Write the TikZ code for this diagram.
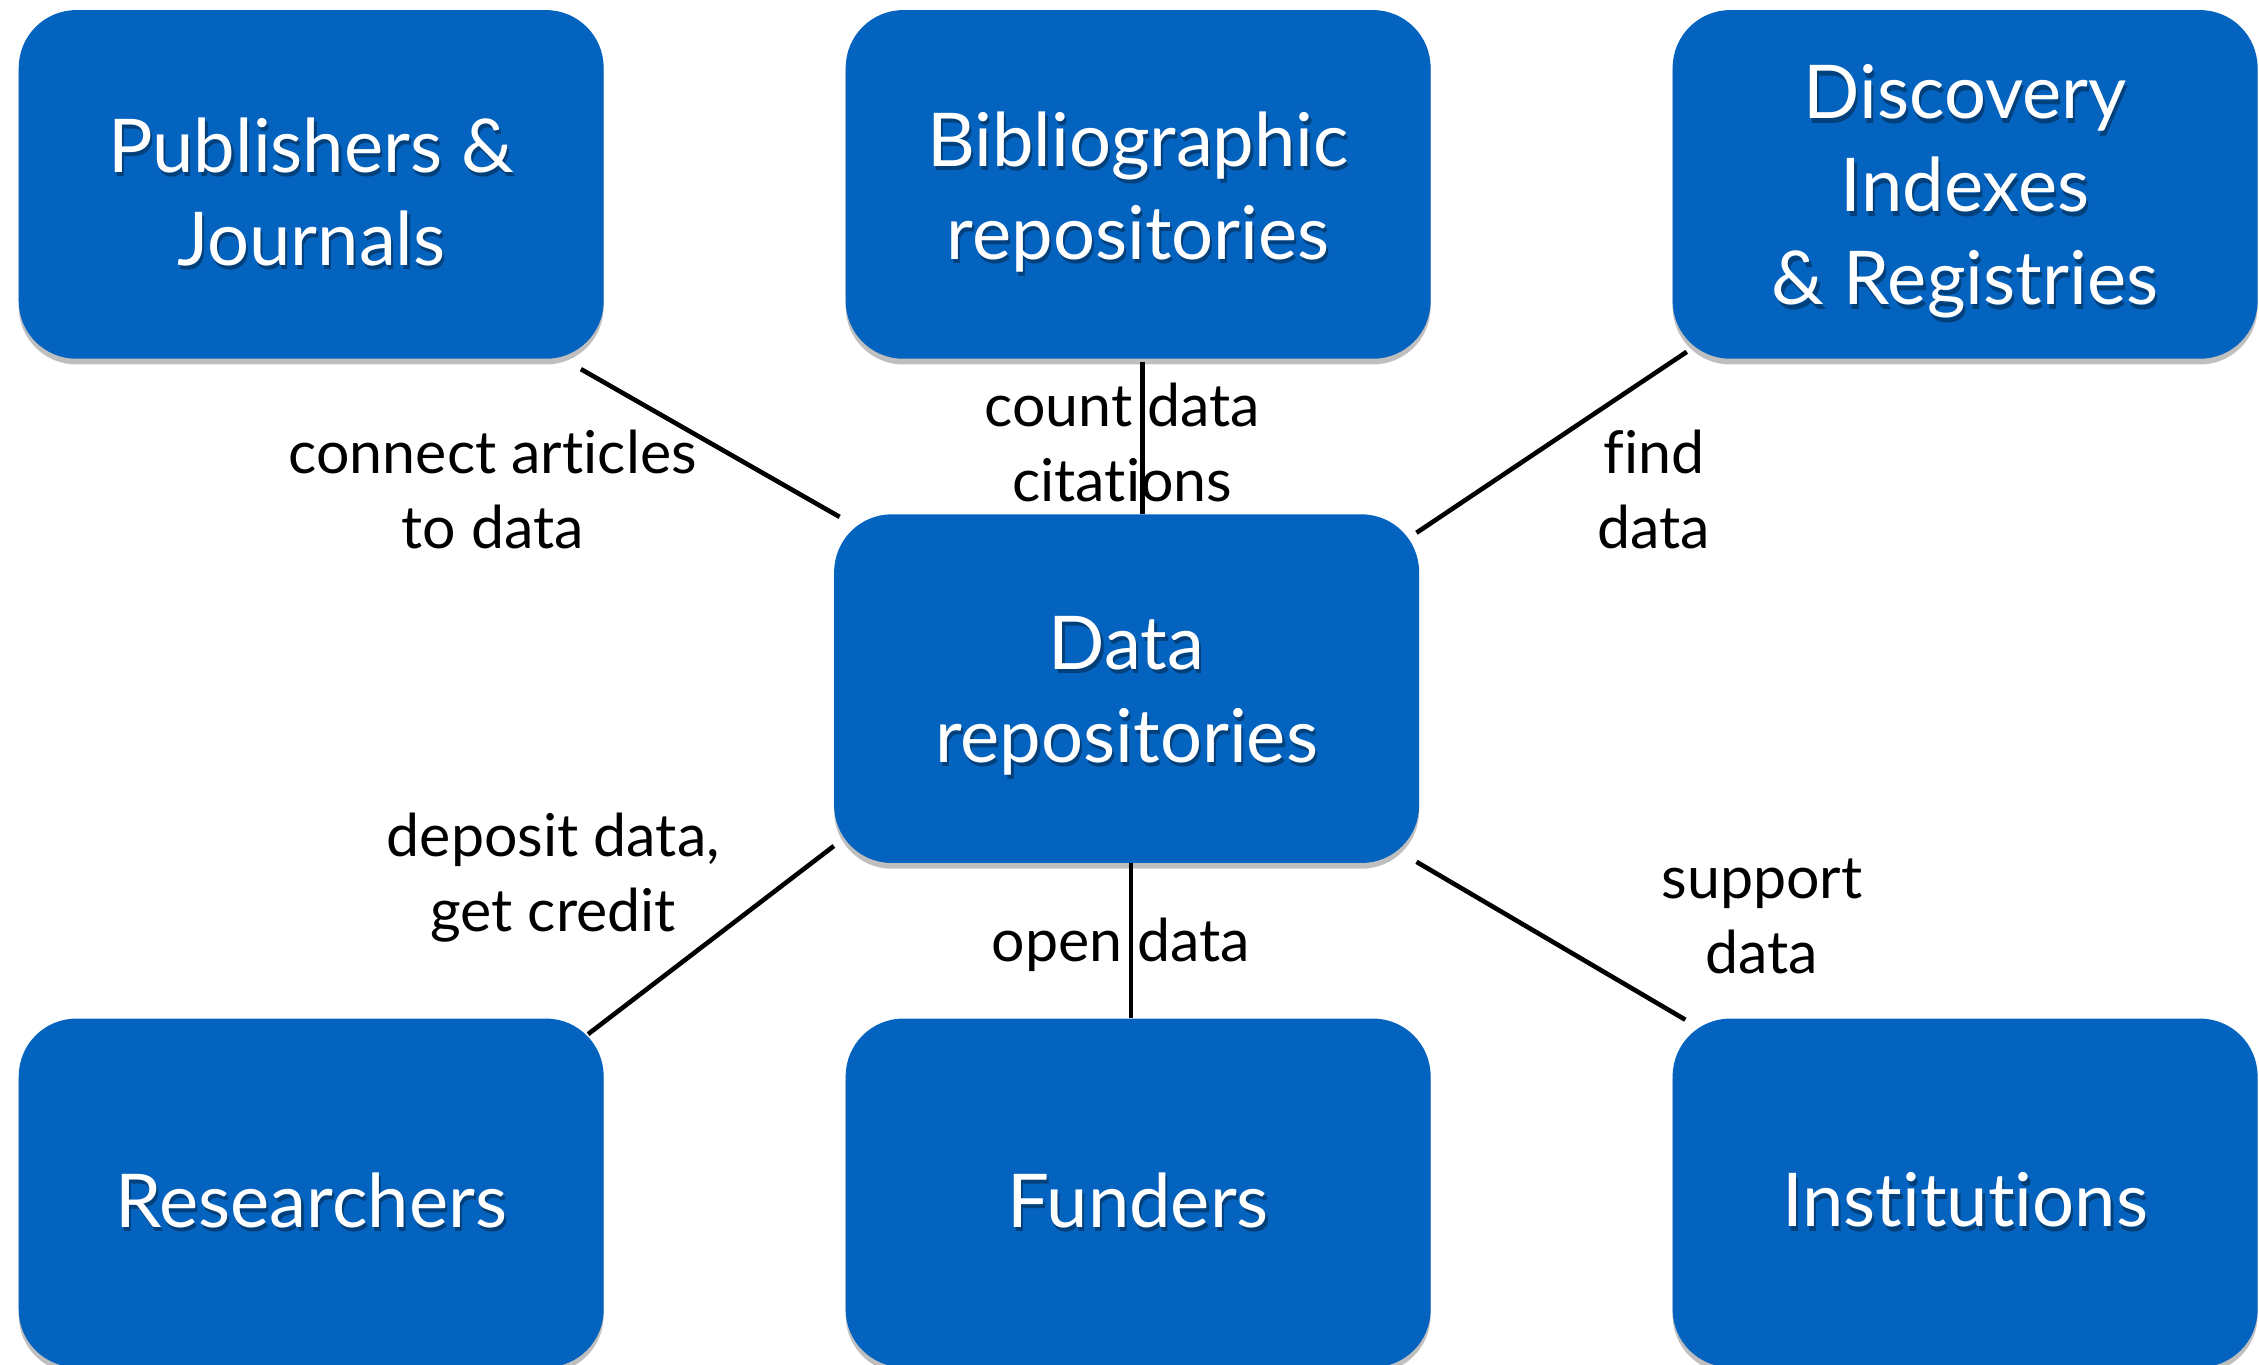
\documentclass[tikz,border=0pt]{standalone}
\usepackage{fontspec}
\setmainfont{Lato}[Ligatures={NoCommon}]
\usetikzlibrary{shadows,calc}
\definecolor{boxblue}{RGB}{4,99,190}
\tikzset{
  boxst/.style={fill=boxblue, rounded corners=40pt, minimum width=406pt, minimum height=242pt, inner sep=0pt,
    drop shadow={shadow xshift=0pt, shadow yshift=-4pt, opacity=0.25, fill=black}},
  btxt/.style={text=white, align=center, font=\fontsize{51.5}{64.5}\selectfont},
  bshad/.style={text=black, opacity=0.35, align=center, font=\fontsize{51.5}{64.5}\selectfont},
  lbl/.style={text=black, align=center, font=\fontsize{41}{52}\selectfont, inner sep=0pt},
  conn/.style={draw=black, line width=3.2pt}
}
\newcommand\mybox[3]{%
  \node[boxst] (#1) at (#2) {};
  \node[bshad] at ([shift={(1.5,-8)}]#1.center) {#3};
  \node[btxt] (#1t) at ([shift={(0,-5)}]#1.center) {#3};
}
\begin{document}
\begin{tikzpicture}[x=1pt,y=1pt]
\useasboundingbox (0,0) rectangle (1568,-947);
\mybox{pub}{216,-128}{Publishers \&\\Journals}
\mybox{bib}{790,-128}{Bibliographic\\repositories}
\mybox{disc}{1364,-128}{Discovery\\Indexes\\\& Registries}
\mybox{data}{782,-478}{Data\\repositories}
\mybox{res}{216,-828}{Researchers}
\mybox{fund}{790,-828}{Funders}
\mybox{inst}{1364,-828}{Institutions}

\coordinate (b1) at ($(bib.south)+(3,-2)$);
\coordinate (f1) at ($(data.south)+(3,0)$);
\draw[conn] ($(pub.south east)+(-16,-7)$) -- ($(data.north west)+(4,-2)$);
\draw[conn] (b1) -- (b1 |- data.north);
\draw[conn] ($(disc.south west)+(10,5)$) -- ($(data.north east)+(-2,-13)$);
\draw[conn] ($(res.north east)+(-11,-11)$) -- ($(data.south west)+(0,12)$);
\draw[conn] (f1) -- (f1 |- fund.north);
\draw[conn] ($(data.south east)+(-2,1)$) -- ($(inst.north west)+(9,-1)$);

\node[lbl] (l1) at (342,-340) {connect articles\\to data};
\node[lbl] (l2) at (779,-307) {count data\\citations};
\node[lbl] (l3) at (1148,-340) {find\\data};
\node[lbl] (l4) at (384,-609) {deposit data,\\get credit};
\node[lbl] (l5) at (778,-656) {open data};
\node[lbl] (l6) at (1223,-636) {support\\data};
\end{tikzpicture}
\end{document}
